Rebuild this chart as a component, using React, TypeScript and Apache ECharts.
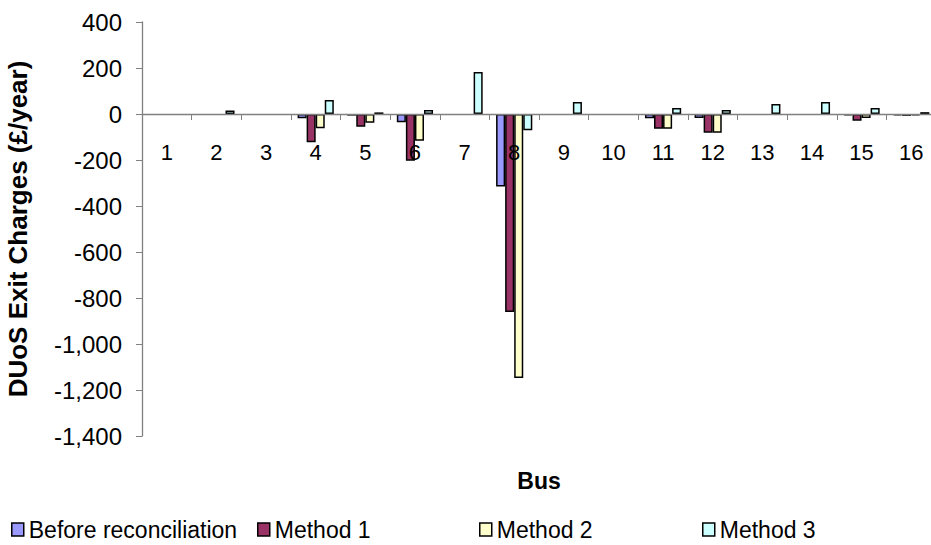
import React, { useEffect, useRef } from "react";
import * as echarts from "echarts";

const buses = ["1", "2", "3", "4", "5", "6", "7", "8", "9", "10", "11", "12", "13", "14", "15", "16"];
const beforeReconciliation = [0, 0, 0, -19, -7, -36, 0, -315, 0, 0, -18, -17, 0, 0, -6, -6];
const method1 = [0, 0, 0, -123, -55, -203, 0, -861, 0, 0, -64, -81, 0, 0, -29, -8];
const method2 = [0, 0, 0, -62, -38, -116, 0, -1148, 0, 0, -64, -81, 0, 0, -17, -6];
const method3 = [0, 15, 0, 61, 7, 17, 183, -71, 52, 0, 26, 17, 43, 52, 26, 8];

const seriesNames = ["Before reconciliation", "Method 1", "Method 2", "Method 3"];
const seriesColors = ["#9999FF", "#993366", "#FFFFCC", "#CCFFFF"];
const seriesValues = [beforeReconciliation, method1, method2, method3];
const legendLefts = [11, 257, 479, 702];

const Y_MIN = -1400;
const Y_MAX = 400;
const GRID_TOP = 22;
const GRID_HEIGHT = 414;
// distance from the grid's bottom edge up to the value 0
const ZERO_OFFSET = (GRID_HEIGHT * (0 - Y_MIN)) / (Y_MAX - Y_MIN);

const FONT = "'Liberation Sans', Arial, sans-serif";

export default function App() {
  const ref = useRef<HTMLDivElement>(null);
  useEffect(() => {
    if (!ref.current) return;
    const chart = echarts.init(ref.current, undefined, { renderer: "svg" });
    chart.setOption({
      animation: false,
      backgroundColor: "#ffffff",
      textStyle: { fontFamily: FONT },
      grid: {
        left: 142,
        top: GRID_TOP,
        height: GRID_HEIGHT,
        width: 794,
        containLabel: false,
        outerBoundsMode: "none",
      },
      legend: seriesNames.map((n, i) => ({
        data: [n],
        left: legendLefts[i],
        top: 518,
        padding: 0,
        icon: "rect",
        itemWidth: 12,
        itemHeight: 13,
        itemGap: 5,
        textStyle: { fontSize: 23, color: "#000", fontFamily: FONT, padding: [0, 0, 0, 0] },
        itemStyle: { borderColor: "#000", borderWidth: 1.5 },
      })),
      xAxis: {
        type: "category",
        data: buses,
        position: "bottom",
        offset: -ZERO_OFFSET,
        z: 5,
        name: "Bus",
        nameLocation: "middle",
        nameGap: 355,
        nameTextStyle: { fontSize: 23, fontWeight: "bold", color: "#000", fontFamily: FONT },
        axisLine: { onZero: false, lineStyle: { color: "#808080", width: 1.3 } },
        axisTick: { show: true, length: 6, inside: false, lineStyle: { color: "#808080" } },
        axisLabel: { fontSize: 22, color: "#000", margin: 27, fontFamily: FONT },
        splitLine: { show: false },
      },
      yAxis: {
        type: "value",
        min: Y_MIN,
        max: Y_MAX,
        interval: 200,
        name: "DUoS Exit Charges (£/year)",
        nameLocation: "middle",
        nameGap: 111,
        nameTextStyle: { fontSize: 26, fontWeight: "bold", color: "#000", fontFamily: FONT },
        axisLine: { show: true, lineStyle: { color: "#808080", width: 1.3 } },
        axisTick: { show: true, length: 6, lineStyle: { color: "#808080" } },
        axisLabel: {
          fontSize: 24,
          color: "#000",
          margin: 20,
          fontFamily: FONT,
          formatter: (v: number) => v.toLocaleString("en-US"),
        },
        splitLine: { show: false },
      },
      series: seriesNames.map((n, i) => ({
        name: n,
        type: "bar",
        data: seriesValues[i].map((v) => (v === 0 ? "-" : v)),
        barGap: "0%",
        barCategoryGap: "27%",
        itemStyle: { color: seriesColors[i], borderColor: "#000", borderWidth: 1.5 },
      })),
    });
    return () => chart.dispose();
  }, []);
  return <div ref={ref} style={{ position: "fixed", left: 0, top: 0, width: 931, height: 545 }} />;
}
